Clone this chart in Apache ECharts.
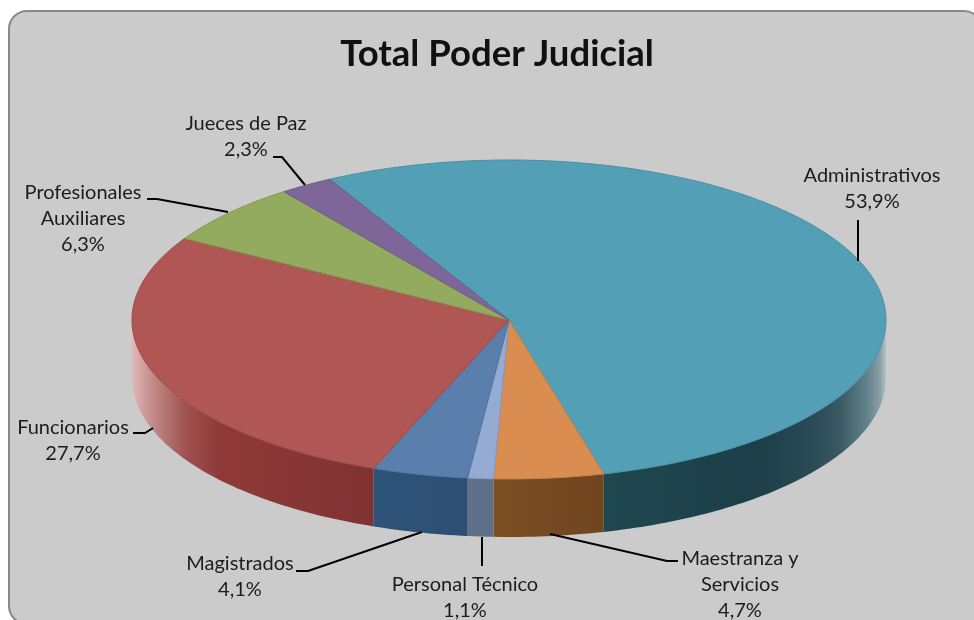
<!DOCTYPE html>
<html><head><meta charset="utf-8">
<style>html,body{margin:0;padding:0;background:#fff}#c{width:974px;height:620px}</style>
<script src="https://cdn.jsdelivr.net/npm/echarts@6/dist/echarts.min.js"></script>
</head><body><div id="c"></div>
<script>
const titleText = 'Total Poder Judicial';
const categories = ['Administrativos','Maestranza y\nServicios','Personal Técnico','Magistrados','Funcionarios','Profesionales\nAuxiliares','Jueces de Paz'];
const shares = [53.9,4.7,1.1,4.1,27.7,6.3,2.3];
const topColors = ['#539fb6','#da8d50','#95abd3','#5a7fad','#b05654','#92ab5e','#7e6798'];
const edgeColors = ['#4a8fa5','#c47f47','#8599bd','#50729b','#9c4b49','#839a53','#715c88'];
const wallStops = [
  [[0,'#1f4750'],[0.55,'#1c3e48'],[0.75,'#2a4c57'],[0.84,'#3a5a64'],[0.93,'#60808a'],[0.98,'#8ba0a8'],[1,'#b0c4cc']],
  [[0,'#7c4e24'],[1,'#6f461f']],
  [[0,'#5f7088'],[1,'#5f7088']],
  [[0,'#2f5278'],[1,'#2d4f73']],
  [[0,'#e0b8b8'],[0.087,'#c08a88'],[0.22,'#a05250'],[0.36,'#8f3a38'],[1,'#7f3232']],
  [[0,'#92ab5e'],[1,'#92ab5e']],
  [[0,'#7e6798'],[1,'#7e6798']]
];
const labelAnchors = [[872,189],[740,585],[465,598],[240,577],[73,441],[83,219],[246,137]];
const leaderLines = [
  [[858,220],[858,261]],
  [[550,534],[667,561],[678,561]],
  [[482,537],[482,566]],
  [[422,532],[308,571],[296,571]],
  [[153,428],[145,433],[133,433]],
  [[228,212],[157,199],[147,199]],
  [[305,185],[282,157],[273,157]]
];
const centre = [509,320], rx = 377, ryBack = 160, ryFront = 159, depth = 58, startAngle = -28.4;
const fontFamily = 'Lato, Carlito, "Noto Sans", sans-serif';

function ptAt(a, dy){
  const r = a*Math.PI/180, c = Math.cos(r);
  return [centre[0]+rx*Math.sin(r), centre[1]-c*(c>0?ryBack:ryFront)+(dy||0)];
}
function arc(a0,a1,dy){
  const n = Math.max(2,Math.ceil(Math.abs(a1-a0))), out=[];
  for(let i=0;i<=n;i++) out.push(ptAt(a0+(a1-a0)*i/n,dy));
  return out;
}
const total = shares.reduce((a,b)=>a+b,0);
function renderSlice(params, api){
  const i = params.dataIndex, v = api.value(0);
  let before = 0; for(let k=0;k<i;k++) before += shares[k];
  const a0 = startAngle+before/total*360, a1 = a0+v/total*360;
  const children = [];
  const w0 = Math.max(a0,90), w1 = Math.min(a1,270);
  if(w1>w0){
    const top = arc(w0,w1,0), bot = arc(w1,w0,depth);
    const xs = top.map(p=>p[0]);
    const x0 = Math.min(...xs), x1 = Math.max(...xs);
    children.push({type:'polygon',z2:1,shape:{points:top.concat(bot)},
      style:{fill:{type:'linear',x:x0,y:0,x2:x1,y2:0,global:true,
        colorStops:wallStops[i].map(s=>({offset:s[0],color:s[1]}))},stroke:null}});
  }
  children.push({type:'polygon',z2:2,shape:{points:[centre].concat(arc(a0,a1,0))},
    style:{fill:topColors[i],stroke:edgeColors[i],lineWidth:1,lineJoin:'round'}});
  children.push({type:'polyline',z2:3,shape:{points:leaderLines[i]},
    style:{fill:null,stroke:'#000',lineWidth:2}});
  children.push({type:'text',z2:4,style:{
    text:categories[i]+'\n'+v.toFixed(1).replace('.',',')+'%',
    x:labelAnchors[i][0],y:labelAnchors[i][1],align:'center',verticalAlign:'middle',
    fontFamily:fontFamily,fontSize:20,lineHeight:26,fill:'#1c1c1c'}});
  return {type:'group',children:children};
}
const chart = echarts.init(document.getElementById('c'),null,{renderer:'canvas'});
chart.setOption({
  animation:false,
  backgroundColor:'#fff',
  title:{text:titleText,left:492,top:31,textAlign:'center',
    textStyle:{fontFamily:fontFamily,fontSize:36.5,fontWeight:'bold',color:'#111'}},
  graphic:[{type:'rect',z:-10,silent:true,shape:{x:9,y:11,width:973,height:613,r:18},
    style:{fill:'#cbcbcb',stroke:'#888',lineWidth:2}}],
  series:[{type:'custom',coordinateSystem:'none',silent:true,renderItem:renderSlice,
    data:shares.map((v,i)=>({name:categories[i],value:[v]}))}]
});
</script></body></html>
